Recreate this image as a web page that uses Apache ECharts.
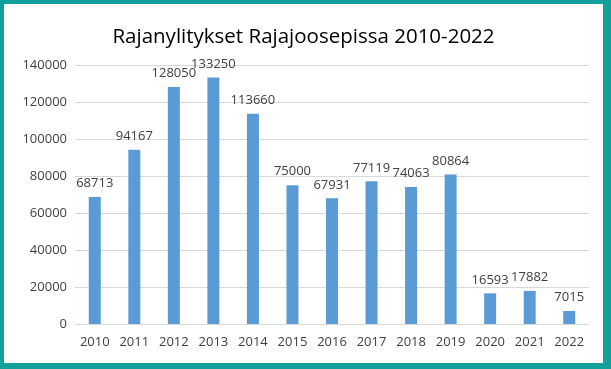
<!DOCTYPE html>
<html><head><meta charset="utf-8">
<script src="https://cdn.jsdelivr.net/npm/echarts@6/dist/echarts.min.js"></script>
<style>
html,body{margin:0;padding:0;background:#fff;}
#wrap{position:absolute;left:0;top:0;width:611px;height:369px;box-sizing:border-box;border-style:solid;border-color:#11a09b;border-width:4px 8px 6px 4px;background:#fff;}
#c{width:100%;height:100%;}
</style></head>
<body><div id="wrap"><div id="c"></div></div>
<script>
const title = "Rajanylitykset Rajajoosepissa 2010-2022";
const years = ["2010","2011","2012","2013","2014","2015","2016","2017","2018","2019","2020","2021","2022"];
const crossings = [68713,94167,128050,133250,113660,75000,67931,77119,74063,80864,16593,17882,7015];
const yTicks = [0,20000,40000,60000,80000,100000,120000,140000];

const chart = echarts.init(document.getElementById('c'));
chart.setOption({
  animation:false,
  title:{text:title,left:'center',top:18,textStyle:{fontFamily:'Open Sans',fontWeight:'normal',fontSize:20.5,color:'#000'}},
  grid:{left:71,right:14,top:61,bottom:39},
  xAxis:{type:'category',data:years,
    axisLine:{lineStyle:{color:'#d9d9d9'}},axisTick:{show:false},
    axisLabel:{color:'#404040',fontFamily:'Open Sans',fontSize:13,margin:12}},
  yAxis:{type:'value',min:yTicks[0],max:yTicks[yTicks.length-1],interval:20000,
    splitLine:{lineStyle:{color:'#d9d9d9'}},axisLine:{show:false},axisTick:{show:false},
    axisLabel:{color:'#404040',fontFamily:'Open Sans',fontSize:13,margin:8,formatter:v=>String(v)}},
  series:[{type:'bar',data:crossings,barWidth:12,itemStyle:{color:'#5b9bd5'},
    label:{show:true,position:'top',distance:7,color:'#404040',fontFamily:'Open Sans',fontSize:13}}]
});
</script></body></html>
